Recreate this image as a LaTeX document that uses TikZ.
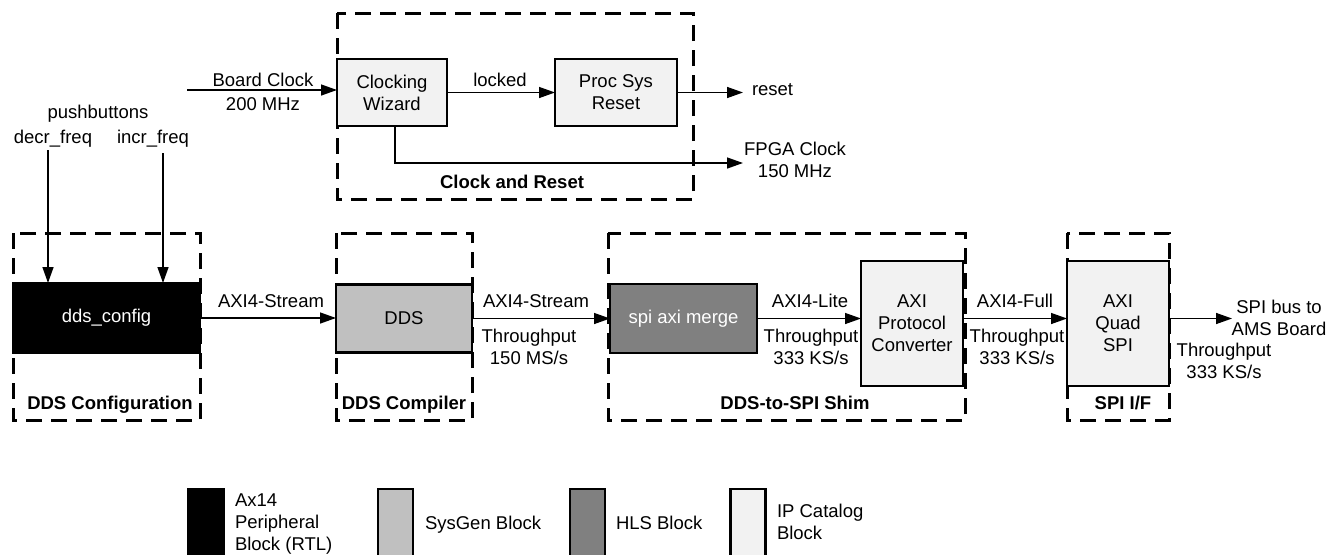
\documentclass[tikz,border=0pt]{standalone}
\usepackage{fontspec}
\setmainfont{Liberation Sans}
\usetikzlibrary{arrows.meta}
\definecolor{sysgen}{HTML}{C0C0C0}
\definecolor{hls}{HTML}{808080}
\definecolor{ipcat}{HTML}{F2F2F2}
\begin{document}
\begin{tikzpicture}[x=1pt,y=-1pt,
  every node/.style={font=\fontsize{18.5}{22}\selectfont, inner sep=0pt, outer sep=0pt},
  frame/.style={draw=black, line width=3pt, dash pattern=on 16pt off 9pt},
  blk/.style={draw=black, line width=2.8pt, align=center},
  conn/.style={line width=1.4pt, -{Triangle[length=16pt,width=11pt]}},
  lbl/.style={anchor=base},
  ml/.style={align=center, anchor=center},
  title/.style={anchor=base, font=\fontsize{18.5}{22}\selectfont\bfseries},
  legbox/.style={draw=black, line width=2.8pt, anchor=north, minimum width=35pt, minimum height=70pt}]
\useasboundingbox (0,0) rectangle (1338,554);

% group frames
\draw[frame] (337,13) rectangle (693,199);
\draw[frame] (13,233) rectangle (200,420);
\draw[frame] (336,233) rectangle (472,420);
\draw[frame] (608,233) rectangle (965,420);
\draw[frame] (1067,233) rectangle (1169,420);

% blocks
\node[blk, fill=ipcat, minimum width=110pt, minimum height=67pt] (cw) at (392,92.5) {Clocking\\Wizard};
\node[blk, fill=ipcat, minimum width=122pt, minimum height=67pt] (psr) at (616,92.5) {Proc Sys\\Reset};
\node[blk, fill=black, text=white, minimum width=187pt, minimum height=70pt] (cfg) at (106.5,318) {dds\_config};
\node[blk, fill=sysgen, minimum width=136pt, minimum height=68pt] (dds) at (404,318.5) {DDS};
\node[blk, fill=hls, text=white, minimum width=147pt, minimum height=69pt] (sam) at (683.5,318.5) {spi axi merge};
\node[blk, fill=ipcat, minimum width=102pt, minimum height=125pt] (apc) at (912,323.5) {AXI\\Protocol\\Converter};
\node[blk, fill=ipcat, minimum width=102pt, minimum height=125pt] (qspi) at (1118,323.5) {AXI\\Quad\\SPI};

% clock and reset
\coordinate (bcin) at (187,90);
\draw[conn] (bcin) -- (bcin -| cw.west);
\node[lbl] (bclbl) at (263,86) {Board Clock};
\node[lbl] (bcmhz) at (263,110) {200 MHz};
\draw[conn] (cw.east) -- (psr.west);
\node[lbl] (lck) at (500,86) {locked};
\coordinate (rst) at (743,92.5);
\draw[conn] (psr.east) -- (rst);
\node[anchor=base west] (rstlbl) at (752,95) {reset};
\coordinate (fpga) at (743,163);
\draw[conn] ([xshift=3pt]cw.south) |- (fpga);
\node[ml] (fpgalbl) at (795,160) {FPGA Clock\\150 MHz};
\node[title] (crt) at (512,188) {Clock and Reset};

% pushbuttons
\node[lbl] (pb) at (98,118) {pushbuttons};
\node[lbl] (dec) at (53,143) {decr\_freq};
\node[lbl] (inc) at (153,143) {incr\_freq};
\coordinate (decs) at (48,150);
\coordinate (incs) at (163,153);
\draw[conn] (decs) -- (decs |- cfg.north);
\draw[conn] (incs) -- (incs |- cfg.north);

% data path
\draw[conn] (cfg.east) -- (cfg.east -| dds.west);
\node[lbl] (s1) at (271,307) {AXI4-Stream};
\draw[conn] (dds.east) -- (dds.east -| sam.west);
\node[lbl] (s2) at (536,307) {AXI4-Stream};
\node[ml] (t1) at (529,346.5) {Throughput\\150 MS/s};
\draw[conn] (sam.east) -- (sam.east -| apc.west);
\node[lbl] (s3) at (810,307) {AXI4-Lite};
\node[ml] (t2) at (811,346.5) {Throughput\\333 KS/s};
\draw[conn] (sam.east -| apc.east) -- (sam.east -| qspi.west);
\node[lbl] (s4) at (1015,307) {AXI4-Full};
\node[ml] (t3) at (1017,346.5) {Throughput\\333 KS/s};
\coordinate (spiout) at (1232,318.5);
\draw[conn] (sam.east -| qspi.east) -- (spiout);
\node[ml] (spilbl) at (1279,317.5) {SPI bus to\\AMS Board};
\node[ml] (t4) at (1224,361.3) {Throughput\\333 KS/s};

% frame titles
\node[title] (g1) at (110,409) {DDS Configuration};
\node[title] (g2) at (404,409) {DDS Compiler};
\node[title] (g3) at (795,409) {DDS-to-SPI Shim};
\node[title] (g4) at (1123,409) {SPI I/F};

% legend
\node[legbox, fill=black] (lg1) at (206,489) {};
\node[legbox, fill=sysgen] (lg2) at (395.5,489) {};
\node[legbox, fill=hls] (lg3) at (587.5,489) {};
\node[legbox, fill=ipcat] (lg4) at (748,489) {};
\node[align=left, anchor=west] (lt1) at (235,524) {Ax14\\Peripheral\\Block (RTL)};
\node[anchor=base west] (lt2) at (425,529.3) {SysGen Block};
\node[anchor=base west] (lt3) at (616,529.3) {HLS Block};
\node[align=left, anchor=west] (lt4) at (777,522) {IP Catalog\\Block};
\end{tikzpicture}
\end{document}
